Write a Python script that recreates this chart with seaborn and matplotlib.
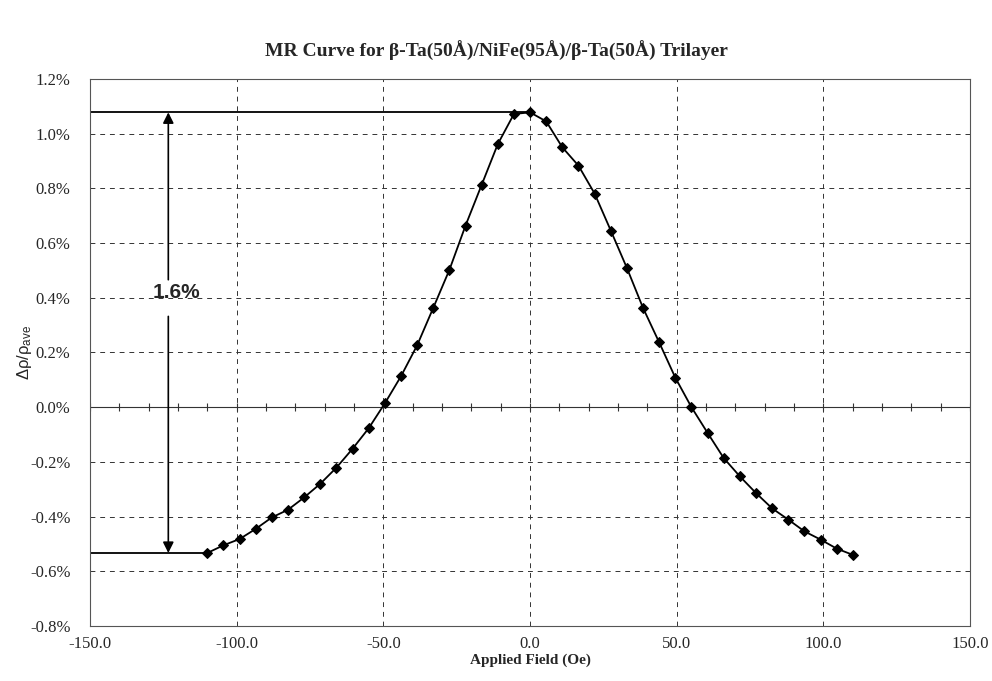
import numpy as np
import matplotlib
matplotlib.use("Agg")
import matplotlib.pyplot as plt
import seaborn as sns
from matplotlib.ticker import PercentFormatter, FormatStrFormatter, MultipleLocator

# applied field (Oe) and MR ratio (%)
field = [-110.0, -104.5, -99.0, -93.5, -88.0, -82.5, -77.0, -71.5, -66.0, -60.5,
         -55.0, -49.5, -44.0, -38.5, -33.0, -27.5, -22.0, -16.5, -11.0, -5.5,
         0.0, 5.5, 11.0, 16.5, 22.0, 27.5, 33.0, 38.5, 44.0, 49.5,
         55.0, 60.5, 66.0, 71.5, 77.0, 82.5, 88.0, 93.5, 99.0, 104.5, 110.0]
mr = [-0.533, -0.505, -0.482, -0.445, -0.403, -0.375, -0.330, -0.280, -0.221, -0.152,
      -0.077, 0.014, 0.113, 0.226, 0.363, 0.502, 0.664, 0.813, 0.962, 1.072,
      1.078, 1.045, 0.950, 0.883, 0.781, 0.646, 0.509, 0.363, 0.237, 0.108,
      0.000, -0.094, -0.186, -0.253, -0.314, -0.370, -0.411, -0.454, -0.484, -0.517, -0.540]

title = "MR Curve for β-Ta(50Å)/NiFe(95Å)/β-Ta(50Å) Trilayer"
span_label = "1.6%"

sns.set_style("white")
plt.rcParams["font.family"] = ["Liberation Serif", "DejaVu Serif"]
plt.rcParams["axes.unicode_minus"] = False
plt.rcParams["mathtext.fontset"] = "custom"
plt.rcParams["mathtext.rm"] = "Liberation Sans"
plt.rcParams["mathtext.it"] = "Liberation Sans:italic"

fig = plt.figure(figsize=(9.92, 6.81), dpi=100)
ax = fig.add_axes([0.0907, 0.0808, 0.8873, 0.8032])

# the curve
sns.lineplot(x=field, y=mr, ax=ax, color="black", linewidth=1.3,
             marker="D", markersize=5.5, markeredgecolor="black", sort=False)

ax.set_xlim(-150, 150)
ax.set_ylim(-0.8, 1.2)
ax.xaxis.set_major_locator(MultipleLocator(50))
ax.yaxis.set_major_locator(MultipleLocator(0.2))
ax.xaxis.set_major_formatter(FormatStrFormatter("%.1f"))
ax.yaxis.set_major_formatter(PercentFormatter(xmax=100, decimals=1))
ax.tick_params(axis="both", direction="in", length=4, labelsize=12, color="#333333")
ax.tick_params(axis="y", pad=14)
ax.tick_params(axis="x", pad=7)
ax.grid(True, linestyle=(0, (5, 5)), color="#333333", linewidth=0.7)
for s in ax.spines.values():
    s.set_color("#555555")
    s.set_linewidth(0.8)

# axis crossing at 0 with minor ticks
ax.axhline(0, color="#333333", linewidth=0.8, zorder=1)
minor = np.arange(-150, 151, 10)
ax.plot(minor, np.zeros_like(minor), linestyle="none", marker="|",
        markersize=6, color="#333333", markeredgewidth=0.8, zorder=1)

# reference lines for peak and minimum
ymax = max(mr)
ymin = mr[0]
ax.hlines(ymax, -150, field[mr.index(ymax)], color="black", linewidth=1.3, zorder=2)
ax.hlines(ymin, -150, field[0], color="black", linewidth=1.3, zorder=2)

arrow_x = -123.3
ax.annotate("", xy=(arrow_x, ymax), xytext=(arrow_x, 0.466),
            arrowprops=dict(arrowstyle="-|>", color="black", lw=1.2, mutation_scale=16,
                            shrinkA=0, shrinkB=0))
ax.annotate("", xy=(arrow_x, ymin), xytext=(arrow_x, 0.332),
            arrowprops=dict(arrowstyle="-|>", color="black", lw=1.2, mutation_scale=16,
                            shrinkA=0, shrinkB=0))
ax.text(-120.5, 0.42, span_label, ha="center", va="center", fontsize=15,
        fontweight="bold", family="Liberation Sans")

ax.set_xlabel("Applied Field (Oe)", fontsize=11, fontweight="bold", labelpad=1)
ax.set_ylabel("Δρ/ρ$_{\\mathrm{ave}}$", fontsize=12, labelpad=-3,
              family="Liberation Sans")
fig.suptitle(title, y=0.94, fontsize=14, fontweight="bold")

fig.savefig("out.png", dpi=100)
